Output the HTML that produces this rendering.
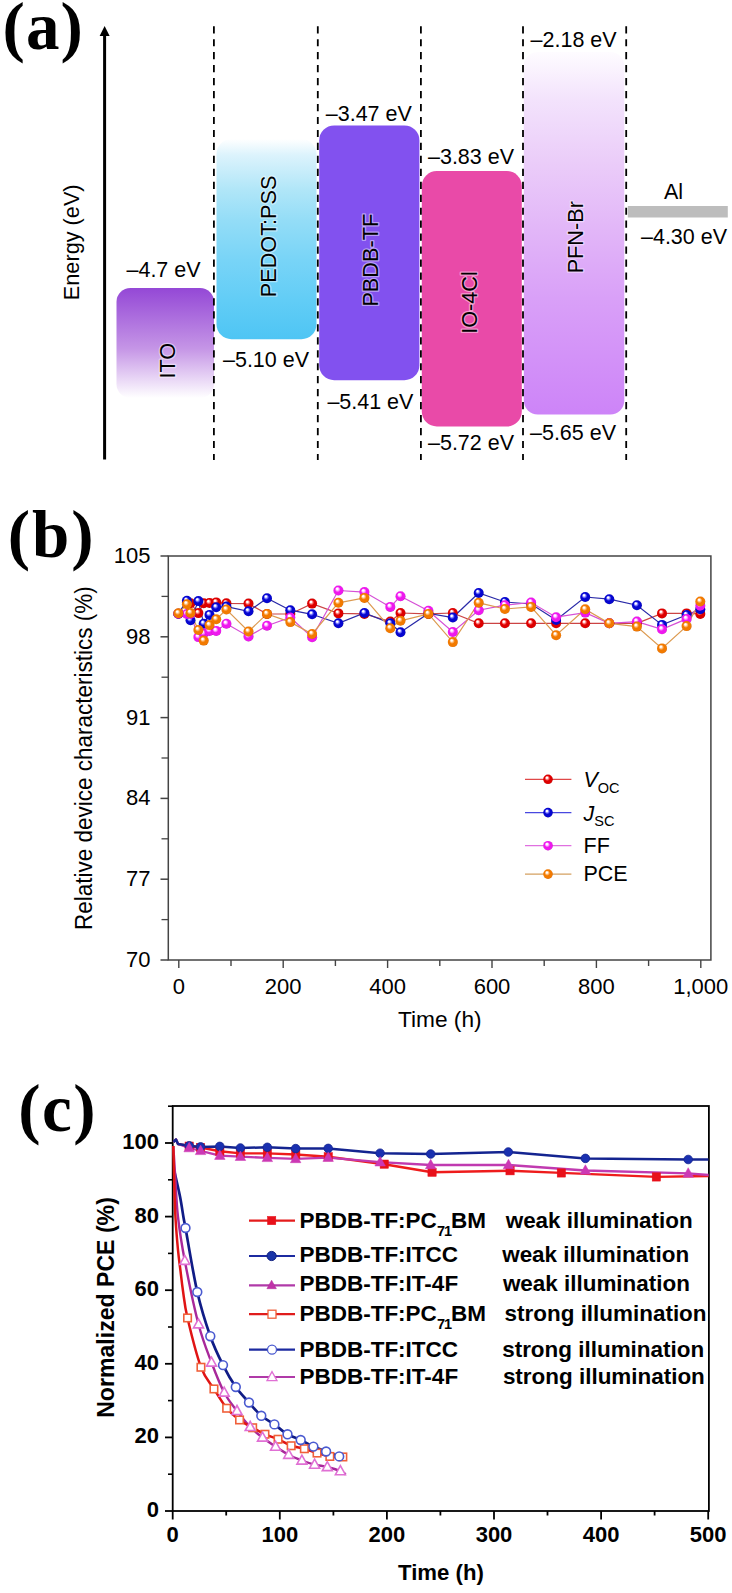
<!DOCTYPE html>
<html><head><meta charset="utf-8"><title>Figure</title>
<style>
html,body{margin:0;padding:0;background:#fff;}
body{width:732px;height:1593px;overflow:hidden;}
svg{display:block;}
text{font-family:"Liberation Sans", sans-serif;}
.serif{font-family:"Liberation Serif", serif;font-weight:bold;}
</style></head><body>
<svg width="732" height="1593" viewBox="0 0 732 1593">
<defs>
<linearGradient id="gITO" x1="0" y1="0" x2="0" y2="1">
 <stop offset="0" stop-color="#9448d6"/><stop offset="0.55" stop-color="#c595e6"/><stop offset="1" stop-color="#ffffff"/>
</linearGradient>
<linearGradient id="gPED" x1="0" y1="0" x2="0" y2="1">
 <stop offset="0" stop-color="#ffffff"/><stop offset="0.08" stop-color="#dcf3fc"/><stop offset="0.255" stop-color="#b0e6f8"/><stop offset="0.405" stop-color="#94ddf7"/><stop offset="0.605" stop-color="#78d4f7"/><stop offset="0.805" stop-color="#62cdf6"/><stop offset="1" stop-color="#4ec5f4"/>
</linearGradient>
<linearGradient id="gPFN" x1="0" y1="0" x2="0" y2="1">
 <stop offset="0" stop-color="#fefcff"/><stop offset="0.13" stop-color="#f3e3fc"/><stop offset="0.3" stop-color="#ebcdf9"/><stop offset="0.49" stop-color="#e2b6f8"/><stop offset="0.68" stop-color="#d9a0f8"/><stop offset="1" stop-color="#cd84f8"/>
</linearGradient>

<radialGradient id="sr" cx="0.5" cy="0.5" r="0.55" fx="0.36" fy="0.3"><stop offset="0" stop-color="#ffffff"/><stop offset="0.14" stop-color="#ffffff"/><stop offset="0.3" stop-color="#ff8080"/><stop offset="0.5" stop-color="#dd0000"/><stop offset="0.85" stop-color="#dd0000"/><stop offset="1" stop-color="#900000"/></radialGradient>
<radialGradient id="sb" cx="0.5" cy="0.5" r="0.55" fx="0.36" fy="0.3"><stop offset="0" stop-color="#ffffff"/><stop offset="0.14" stop-color="#ffffff"/><stop offset="0.3" stop-color="#8080ff"/><stop offset="0.5" stop-color="#0606d0"/><stop offset="0.85" stop-color="#0606d0"/><stop offset="1" stop-color="#000070"/></radialGradient>
<radialGradient id="sm" cx="0.5" cy="0.5" r="0.55" fx="0.36" fy="0.3"><stop offset="0" stop-color="#ffffff"/><stop offset="0.14" stop-color="#ffffff"/><stop offset="0.3" stop-color="#ffa0ff"/><stop offset="0.5" stop-color="#ee18ee"/><stop offset="0.85" stop-color="#ee18ee"/><stop offset="1" stop-color="#a000a0"/></radialGradient>
<radialGradient id="so" cx="0.5" cy="0.5" r="0.55" fx="0.36" fy="0.3"><stop offset="0" stop-color="#ffffff"/><stop offset="0.14" stop-color="#ffffff"/><stop offset="0.3" stop-color="#ffc080"/><stop offset="0.5" stop-color="#f27a00"/><stop offset="0.85" stop-color="#f27a00"/><stop offset="1" stop-color="#b04800"/></radialGradient>
</defs>
<text x="2.4" y="48.5" class="serif" font-size="67" letter-spacing="1.2">(a)</text>
<line x1="104.6" y1="34" x2="104.6" y2="459.5" stroke="#000" stroke-width="3"/>
<polygon points="104.6,26 99.6,36 109.6,36" fill="#000"/>
<rect x="116.5" y="288" width="97.5" height="110" rx="14" ry="14" fill="url(#gITO)"/>
<rect x="216.5" y="139" width="100" height="200.2" rx="15" ry="15" fill="url(#gPED)"/>
<rect x="319.2" y="125.4" width="100.2" height="254.8" rx="15" ry="15" fill="#8251ef"/>
<rect x="421.8" y="171" width="100" height="255.5" rx="15" ry="15" fill="#e94aa8"/>
<rect x="523.8" y="52" width="100.5" height="362.5" rx="14" ry="14" fill="url(#gPFN)"/>
<rect x="627.8" y="206" width="100" height="11.5" fill="#bdbdbd"/>
<line x1="213.9" y1="26.2" x2="213.9" y2="460" stroke="#000" stroke-width="1.8" stroke-dasharray="7.2 5.76"/>
<line x1="317.8" y1="26.2" x2="317.8" y2="460" stroke="#000" stroke-width="1.8" stroke-dasharray="7.2 5.76"/>
<line x1="420.9" y1="26.2" x2="420.9" y2="460" stroke="#000" stroke-width="1.8" stroke-dasharray="7.2 5.76"/>
<line x1="523" y1="26.2" x2="523" y2="460" stroke="#000" stroke-width="1.8" stroke-dasharray="7.2 5.76"/>
<line x1="626.2" y1="26.2" x2="626.2" y2="460" stroke="#000" stroke-width="1.8" stroke-dasharray="7.2 5.76"/>
<text transform="translate(126.5,277.2) scale(0.962,1)" font-size="22.35">–4.7 eV</text>
<text transform="translate(223.0,366.6) scale(0.962,1)" font-size="22.35">–5.10 eV</text>
<text transform="translate(325.8,120.6) scale(0.962,1)" font-size="22.35">–3.47 eV</text>
<text transform="translate(327.4,409.1) scale(0.962,1)" font-size="22.35">–5.41 eV</text>
<text transform="translate(428.0,163.6) scale(0.962,1)" font-size="22.35">–3.83 eV</text>
<text transform="translate(428.0,450.3) scale(0.962,1)" font-size="22.35">–5.72 eV</text>
<text transform="translate(530.6,46.6) scale(0.962,1)" font-size="22.35">–2.18 eV</text>
<text transform="translate(530.0,439.6) scale(0.962,1)" font-size="22.35">–5.65 eV</text>
<text transform="translate(664,199.2) scale(0.962,1)" font-size="22.35">Al</text>
<text transform="translate(641.0,244) scale(0.962,1)" font-size="22.35">–4.30 eV</text>
<text transform="translate(78.6,242.3) rotate(-90) scale(0.962,1)" font-size="22.56" text-anchor="middle" font-weight="normal">Energy (eV)</text>
<text transform="translate(174.7,360.7) rotate(-90) scale(0.962,1)" font-size="22.56" text-anchor="middle" font-weight="normal" stroke="#fff" stroke-opacity="0.45" stroke-width="2.6" paint-order="stroke" stroke-linejoin="round">ITO</text>
<text transform="translate(276,236.4) rotate(-90) scale(0.962,1)" font-size="22.56" text-anchor="middle" font-weight="normal" stroke="#fff" stroke-opacity="0.45" stroke-width="2.6" paint-order="stroke" stroke-linejoin="round">PEDOT:PSS</text>
<text transform="translate(378.3,260.2) rotate(-90) scale(0.962,1)" font-size="22.56" text-anchor="middle" font-weight="normal" stroke="#fff" stroke-opacity="0.45" stroke-width="2.6" paint-order="stroke" stroke-linejoin="round">PBDB-TF</text>
<text transform="translate(477.3,302.5) rotate(-90) scale(0.962,1)" font-size="22.56" text-anchor="middle" font-weight="normal" stroke="#fff" stroke-opacity="0.45" stroke-width="2.6" paint-order="stroke" stroke-linejoin="round">IO-4Cl</text>
<text transform="translate(583.2,237.2) rotate(-90) scale(0.962,1)" font-size="22.56" text-anchor="middle" font-weight="normal" stroke="#fff" stroke-opacity="0.45" stroke-width="2.6" paint-order="stroke" stroke-linejoin="round">PFN-Br</text>
<text x="7.8" y="556.5" class="serif" font-size="67" letter-spacing="2">(b)</text>
<rect x="168.3" y="556" width="542.5999999999999" height="404" fill="none" stroke="#444" stroke-width="1.5"/>
<line x1="160.5" y1="556.0" x2="168.3" y2="556.0" stroke="#444" stroke-width="1.5"/>
<text x="150.50" y="563.00" font-size="22" text-anchor="end" >105</text>
<line x1="160.5" y1="636.8" x2="168.3" y2="636.8" stroke="#444" stroke-width="1.5"/>
<text x="150.50" y="643.80" font-size="22" text-anchor="end" >98</text>
<line x1="160.5" y1="717.6" x2="168.3" y2="717.6" stroke="#444" stroke-width="1.5"/>
<text x="150.50" y="724.60" font-size="22" text-anchor="end" >91</text>
<line x1="160.5" y1="798.4" x2="168.3" y2="798.4" stroke="#444" stroke-width="1.5"/>
<text x="150.50" y="805.40" font-size="22" text-anchor="end" >84</text>
<line x1="160.5" y1="879.2" x2="168.3" y2="879.2" stroke="#444" stroke-width="1.5"/>
<text x="150.50" y="886.20" font-size="22" text-anchor="end" >77</text>
<line x1="160.5" y1="960.0" x2="168.3" y2="960.0" stroke="#444" stroke-width="1.5"/>
<text x="150.50" y="967.00" font-size="22" text-anchor="end" >70</text>
<line x1="161.5" y1="596.4" x2="168.3" y2="596.4" stroke="#444" stroke-width="1.3"/>
<line x1="161.5" y1="677.2" x2="168.3" y2="677.2" stroke="#444" stroke-width="1.3"/>
<line x1="161.5" y1="758.0" x2="168.3" y2="758.0" stroke="#444" stroke-width="1.3"/>
<line x1="161.5" y1="838.8" x2="168.3" y2="838.8" stroke="#444" stroke-width="1.3"/>
<line x1="161.5" y1="919.6" x2="168.3" y2="919.6" stroke="#444" stroke-width="1.3"/>
<line x1="178.8" y1="960" x2="178.8" y2="968" stroke="#444" stroke-width="1.4"/>
<text x="178.80" y="994.30" font-size="22" text-anchor="middle" >0</text>
<line x1="231.0" y1="960" x2="231.0" y2="966" stroke="#444" stroke-width="1.4"/>
<line x1="283.2" y1="960" x2="283.2" y2="968" stroke="#444" stroke-width="1.4"/>
<text x="283.20" y="994.30" font-size="22" text-anchor="middle" >200</text>
<line x1="335.4" y1="960" x2="335.4" y2="966" stroke="#444" stroke-width="1.4"/>
<line x1="387.6" y1="960" x2="387.6" y2="968" stroke="#444" stroke-width="1.4"/>
<text x="387.60" y="994.30" font-size="22" text-anchor="middle" >400</text>
<line x1="439.8" y1="960" x2="439.8" y2="966" stroke="#444" stroke-width="1.4"/>
<line x1="492.0" y1="960" x2="492.0" y2="968" stroke="#444" stroke-width="1.4"/>
<text x="492.00" y="994.30" font-size="22" text-anchor="middle" >600</text>
<line x1="544.2" y1="960" x2="544.2" y2="966" stroke="#444" stroke-width="1.4"/>
<line x1="596.4" y1="960" x2="596.4" y2="968" stroke="#444" stroke-width="1.4"/>
<text x="596.40" y="994.30" font-size="22" text-anchor="middle" >800</text>
<line x1="648.6" y1="960" x2="648.6" y2="966" stroke="#444" stroke-width="1.4"/>
<line x1="700.8" y1="960" x2="700.8" y2="968" stroke="#444" stroke-width="1.4"/>
<text x="700.80" y="994.30" font-size="22" text-anchor="middle" >1,000</text>
<text x="439.80" y="1027.30" font-size="22.7" text-anchor="middle" >Time (h)</text>
<text transform="translate(92.3,758.2) rotate(-90) scale(0.962,1)" font-size="23.39" text-anchor="middle" font-weight="normal">Relative device characteristics (%)</text>
<polyline points="178.4,613.7 186.9,602.5 190.5,603.3 198.4,613.1 203.7,603.3 209.5,602.9 216.2,602.4 226.4,603.3 248.5,603.6 267.0,614.0 290.3,614.0 312.1,603.6 338.4,613.4 364.4,613.9 390.3,621.6 400.5,613.0 428.4,613.9 452.8,613.0 478.7,623.3 504.9,623.3 531.1,623.3 556.1,623.3 585.2,623.3 609.3,623.3 636.9,623.3 662.0,613.4 686.6,613.4 700.3,613.9" fill="none" stroke="#cc4444" stroke-width="1.2"/>
<polyline points="178.4,613.7 186.9,600.7 190.5,620.2 198.4,601.1 203.7,623.7 209.5,614.9 216.2,607.3 226.4,606.6 248.5,611.3 267.0,598.2 290.3,610.2 312.1,614.3 338.4,623.3 364.4,613.0 390.3,623.3 400.5,632.3 428.4,613.5 452.8,617.5 478.7,593.0 504.9,602.0 531.1,604.0 556.1,620.0 585.2,597.0 609.3,599.2 636.9,605.2 662.0,624.9 686.6,615.0 700.3,609.3" fill="none" stroke="#2a2aa8" stroke-width="1.2"/>
<polyline points="178.4,613.7 186.9,614.0 190.5,614.0 198.4,637.1 203.7,633.5 209.5,630.9 216.2,630.9 226.4,623.7 248.5,636.4 267.0,625.7 290.3,617.5 312.1,637.2 338.4,590.5 364.4,592.1 390.3,606.9 400.5,596.2 428.4,610.7 452.8,632.0 478.7,610.2 504.9,605.2 531.1,602.5 556.1,617.2 585.2,612.6 609.3,623.3 636.9,621.6 662.0,629.3 686.6,618.9 700.3,605.7" fill="none" stroke="#d650d6" stroke-width="1.2"/>
<polyline points="178.4,613.3 186.9,604.2 190.5,612.9 198.4,630.0 203.7,640.6 209.5,625.1 216.2,619.3 226.4,609.5 248.5,631.5 267.0,613.9 290.3,622.1 312.1,634.0 338.4,602.8 364.4,597.9 390.3,628.2 400.5,620.8 428.4,613.9 452.8,642.1 478.7,602.8 504.9,609.0 531.1,606.9 556.1,635.2 585.2,609.3 609.3,623.3 636.9,626.6 662.0,648.4 686.6,626.1 700.3,601.5" fill="none" stroke="#dc9a50" stroke-width="1.2"/>
<circle cx="178.4" cy="613.7" r="5" fill="url(#sr)"/>
<circle cx="186.9" cy="602.5" r="5" fill="url(#sr)"/>
<circle cx="190.5" cy="603.3" r="5" fill="url(#sr)"/>
<circle cx="198.4" cy="613.1" r="5" fill="url(#sr)"/>
<circle cx="203.7" cy="603.3" r="5" fill="url(#sr)"/>
<circle cx="209.5" cy="602.9" r="5" fill="url(#sr)"/>
<circle cx="216.2" cy="602.4" r="5" fill="url(#sr)"/>
<circle cx="226.4" cy="603.3" r="5" fill="url(#sr)"/>
<circle cx="248.5" cy="603.6" r="5" fill="url(#sr)"/>
<circle cx="267.0" cy="614.0" r="5" fill="url(#sr)"/>
<circle cx="290.3" cy="614.0" r="5" fill="url(#sr)"/>
<circle cx="312.1" cy="603.6" r="5" fill="url(#sr)"/>
<circle cx="338.4" cy="613.4" r="5" fill="url(#sr)"/>
<circle cx="364.4" cy="613.9" r="5" fill="url(#sr)"/>
<circle cx="390.3" cy="621.6" r="5" fill="url(#sr)"/>
<circle cx="400.5" cy="613.0" r="5" fill="url(#sr)"/>
<circle cx="428.4" cy="613.9" r="5" fill="url(#sr)"/>
<circle cx="452.8" cy="613.0" r="5" fill="url(#sr)"/>
<circle cx="478.7" cy="623.3" r="5" fill="url(#sr)"/>
<circle cx="504.9" cy="623.3" r="5" fill="url(#sr)"/>
<circle cx="531.1" cy="623.3" r="5" fill="url(#sr)"/>
<circle cx="556.1" cy="623.3" r="5" fill="url(#sr)"/>
<circle cx="585.2" cy="623.3" r="5" fill="url(#sr)"/>
<circle cx="609.3" cy="623.3" r="5" fill="url(#sr)"/>
<circle cx="636.9" cy="623.3" r="5" fill="url(#sr)"/>
<circle cx="662.0" cy="613.4" r="5" fill="url(#sr)"/>
<circle cx="686.6" cy="613.4" r="5" fill="url(#sr)"/>
<circle cx="700.3" cy="613.9" r="5" fill="url(#sr)"/>
<circle cx="178.4" cy="613.7" r="5" fill="url(#sb)"/>
<circle cx="186.9" cy="600.7" r="5" fill="url(#sb)"/>
<circle cx="190.5" cy="620.2" r="5" fill="url(#sb)"/>
<circle cx="198.4" cy="601.1" r="5" fill="url(#sb)"/>
<circle cx="203.7" cy="623.7" r="5" fill="url(#sb)"/>
<circle cx="209.5" cy="614.9" r="5" fill="url(#sb)"/>
<circle cx="216.2" cy="607.3" r="5" fill="url(#sb)"/>
<circle cx="226.4" cy="606.6" r="5" fill="url(#sb)"/>
<circle cx="248.5" cy="611.3" r="5" fill="url(#sb)"/>
<circle cx="267.0" cy="598.2" r="5" fill="url(#sb)"/>
<circle cx="290.3" cy="610.2" r="5" fill="url(#sb)"/>
<circle cx="312.1" cy="614.3" r="5" fill="url(#sb)"/>
<circle cx="338.4" cy="623.3" r="5" fill="url(#sb)"/>
<circle cx="364.4" cy="613.0" r="5" fill="url(#sb)"/>
<circle cx="390.3" cy="623.3" r="5" fill="url(#sb)"/>
<circle cx="400.5" cy="632.3" r="5" fill="url(#sb)"/>
<circle cx="428.4" cy="613.5" r="5" fill="url(#sb)"/>
<circle cx="452.8" cy="617.5" r="5" fill="url(#sb)"/>
<circle cx="478.7" cy="593.0" r="5" fill="url(#sb)"/>
<circle cx="504.9" cy="602.0" r="5" fill="url(#sb)"/>
<circle cx="531.1" cy="604.0" r="5" fill="url(#sb)"/>
<circle cx="556.1" cy="620.0" r="5" fill="url(#sb)"/>
<circle cx="585.2" cy="597.0" r="5" fill="url(#sb)"/>
<circle cx="609.3" cy="599.2" r="5" fill="url(#sb)"/>
<circle cx="636.9" cy="605.2" r="5" fill="url(#sb)"/>
<circle cx="662.0" cy="624.9" r="5" fill="url(#sb)"/>
<circle cx="686.6" cy="615.0" r="5" fill="url(#sb)"/>
<circle cx="700.3" cy="609.3" r="5" fill="url(#sb)"/>
<circle cx="178.4" cy="613.7" r="5" fill="url(#sm)"/>
<circle cx="186.9" cy="614.0" r="5" fill="url(#sm)"/>
<circle cx="190.5" cy="614.0" r="5" fill="url(#sm)"/>
<circle cx="198.4" cy="637.1" r="5" fill="url(#sm)"/>
<circle cx="203.7" cy="633.5" r="5" fill="url(#sm)"/>
<circle cx="209.5" cy="630.9" r="5" fill="url(#sm)"/>
<circle cx="216.2" cy="630.9" r="5" fill="url(#sm)"/>
<circle cx="226.4" cy="623.7" r="5" fill="url(#sm)"/>
<circle cx="248.5" cy="636.4" r="5" fill="url(#sm)"/>
<circle cx="267.0" cy="625.7" r="5" fill="url(#sm)"/>
<circle cx="290.3" cy="617.5" r="5" fill="url(#sm)"/>
<circle cx="312.1" cy="637.2" r="5" fill="url(#sm)"/>
<circle cx="338.4" cy="590.5" r="5" fill="url(#sm)"/>
<circle cx="364.4" cy="592.1" r="5" fill="url(#sm)"/>
<circle cx="390.3" cy="606.9" r="5" fill="url(#sm)"/>
<circle cx="400.5" cy="596.2" r="5" fill="url(#sm)"/>
<circle cx="428.4" cy="610.7" r="5" fill="url(#sm)"/>
<circle cx="452.8" cy="632.0" r="5" fill="url(#sm)"/>
<circle cx="478.7" cy="610.2" r="5" fill="url(#sm)"/>
<circle cx="504.9" cy="605.2" r="5" fill="url(#sm)"/>
<circle cx="531.1" cy="602.5" r="5" fill="url(#sm)"/>
<circle cx="556.1" cy="617.2" r="5" fill="url(#sm)"/>
<circle cx="585.2" cy="612.6" r="5" fill="url(#sm)"/>
<circle cx="609.3" cy="623.3" r="5" fill="url(#sm)"/>
<circle cx="636.9" cy="621.6" r="5" fill="url(#sm)"/>
<circle cx="662.0" cy="629.3" r="5" fill="url(#sm)"/>
<circle cx="686.6" cy="618.9" r="5" fill="url(#sm)"/>
<circle cx="700.3" cy="605.7" r="5" fill="url(#sm)"/>
<circle cx="178.4" cy="613.3" r="5" fill="url(#so)"/>
<circle cx="186.9" cy="604.2" r="5" fill="url(#so)"/>
<circle cx="190.5" cy="612.9" r="5" fill="url(#so)"/>
<circle cx="198.4" cy="630.0" r="5" fill="url(#so)"/>
<circle cx="203.7" cy="640.6" r="5" fill="url(#so)"/>
<circle cx="209.5" cy="625.1" r="5" fill="url(#so)"/>
<circle cx="216.2" cy="619.3" r="5" fill="url(#so)"/>
<circle cx="226.4" cy="609.5" r="5" fill="url(#so)"/>
<circle cx="248.5" cy="631.5" r="5" fill="url(#so)"/>
<circle cx="267.0" cy="613.9" r="5" fill="url(#so)"/>
<circle cx="290.3" cy="622.1" r="5" fill="url(#so)"/>
<circle cx="312.1" cy="634.0" r="5" fill="url(#so)"/>
<circle cx="338.4" cy="602.8" r="5" fill="url(#so)"/>
<circle cx="364.4" cy="597.9" r="5" fill="url(#so)"/>
<circle cx="390.3" cy="628.2" r="5" fill="url(#so)"/>
<circle cx="400.5" cy="620.8" r="5" fill="url(#so)"/>
<circle cx="428.4" cy="613.9" r="5" fill="url(#so)"/>
<circle cx="452.8" cy="642.1" r="5" fill="url(#so)"/>
<circle cx="478.7" cy="602.8" r="5" fill="url(#so)"/>
<circle cx="504.9" cy="609.0" r="5" fill="url(#so)"/>
<circle cx="531.1" cy="606.9" r="5" fill="url(#so)"/>
<circle cx="556.1" cy="635.2" r="5" fill="url(#so)"/>
<circle cx="585.2" cy="609.3" r="5" fill="url(#so)"/>
<circle cx="609.3" cy="623.3" r="5" fill="url(#so)"/>
<circle cx="636.9" cy="626.6" r="5" fill="url(#so)"/>
<circle cx="662.0" cy="648.4" r="5" fill="url(#so)"/>
<circle cx="686.6" cy="626.1" r="5" fill="url(#so)"/>
<circle cx="700.3" cy="601.5" r="5" fill="url(#so)"/>
<line x1="525" y1="779.3" x2="571.4" y2="779.3" stroke="#e04848" stroke-width="1.3"/>
<circle cx="548" cy="779.3" r="4.8" fill="url(#sr)"/>
<line x1="525" y1="812.6" x2="571.4" y2="812.6" stroke="#4848e0" stroke-width="1.3"/>
<circle cx="548" cy="812.6" r="4.8" fill="url(#sb)"/>
<line x1="525" y1="845.7" x2="571.4" y2="845.7" stroke="#e070e0" stroke-width="1.3"/>
<circle cx="548" cy="845.7" r="4.8" fill="url(#sm)"/>
<line x1="525" y1="874.1" x2="571.4" y2="874.1" stroke="#d4a060" stroke-width="1.3"/>
<circle cx="548" cy="874.1" r="4.8" fill="url(#so)"/>
<text x="583.5" y="787.3" font-size="21.5"><tspan font-style="italic">V</tspan><tspan font-size="14.5" dy="5.5">OC</tspan></text>
<text x="583.5" y="820.6" font-size="21.5"><tspan font-style="italic">J</tspan><tspan font-size="14.5" dy="5.7">SC</tspan></text>
<text x="583.50" y="853.00" font-size="21.5" text-anchor="start" >FF</text>
<text x="583.50" y="881.20" font-size="21.5" text-anchor="start" >PCE</text>
<text x="18.2" y="1131" class="serif" font-size="67" letter-spacing="1.5">(c)</text>
<rect x="172.7" y="1106" width="536.2" height="405" fill="none" stroke="#000" stroke-width="1.8"/>
<line x1="165" y1="1511.0" x2="172.7" y2="1511.0" stroke="#000" stroke-width="1.8"/>
<text x="159" y="1517.0" font-size="22" font-weight="bold" text-anchor="end">0</text>
<line x1="165" y1="1437.4" x2="172.7" y2="1437.4" stroke="#000" stroke-width="1.8"/>
<text x="159" y="1443.4" font-size="22" font-weight="bold" text-anchor="end">20</text>
<line x1="165" y1="1363.8" x2="172.7" y2="1363.8" stroke="#000" stroke-width="1.8"/>
<text x="159" y="1369.8" font-size="22" font-weight="bold" text-anchor="end">40</text>
<line x1="165" y1="1290.2" x2="172.7" y2="1290.2" stroke="#000" stroke-width="1.8"/>
<text x="159" y="1296.2" font-size="22" font-weight="bold" text-anchor="end">60</text>
<line x1="165" y1="1216.6" x2="172.7" y2="1216.6" stroke="#000" stroke-width="1.8"/>
<text x="159" y="1222.6" font-size="22" font-weight="bold" text-anchor="end">80</text>
<line x1="165" y1="1143.0" x2="172.7" y2="1143.0" stroke="#000" stroke-width="1.8"/>
<text x="159" y="1149.0" font-size="22" font-weight="bold" text-anchor="end">100</text>
<line x1="168" y1="1474.2" x2="172.7" y2="1474.2" stroke="#000" stroke-width="1.6"/>
<line x1="168" y1="1400.6" x2="172.7" y2="1400.6" stroke="#000" stroke-width="1.6"/>
<line x1="168" y1="1327.0" x2="172.7" y2="1327.0" stroke="#000" stroke-width="1.6"/>
<line x1="168" y1="1253.4" x2="172.7" y2="1253.4" stroke="#000" stroke-width="1.6"/>
<line x1="168" y1="1179.8" x2="172.7" y2="1179.8" stroke="#000" stroke-width="1.6"/>
<line x1="168" y1="1106.2" x2="172.7" y2="1106.2" stroke="#000" stroke-width="1.6"/>
<line x1="172.7" y1="1511" x2="172.7" y2="1519.5" stroke="#000" stroke-width="1.8"/>
<text x="172.7" y="1541.8" font-size="22" font-weight="bold" text-anchor="middle">0</text>
<line x1="226.2" y1="1511" x2="226.2" y2="1515.5" stroke="#000" stroke-width="1.8"/>
<line x1="279.8" y1="1511" x2="279.8" y2="1519.5" stroke="#000" stroke-width="1.8"/>
<text x="279.8" y="1541.8" font-size="22" font-weight="bold" text-anchor="middle">100</text>
<line x1="333.4" y1="1511" x2="333.4" y2="1515.5" stroke="#000" stroke-width="1.8"/>
<line x1="386.9" y1="1511" x2="386.9" y2="1519.5" stroke="#000" stroke-width="1.8"/>
<text x="386.9" y="1541.8" font-size="22" font-weight="bold" text-anchor="middle">200</text>
<line x1="440.4" y1="1511" x2="440.4" y2="1515.5" stroke="#000" stroke-width="1.8"/>
<line x1="494.0" y1="1511" x2="494.0" y2="1519.5" stroke="#000" stroke-width="1.8"/>
<text x="494.0" y="1541.8" font-size="22" font-weight="bold" text-anchor="middle">300</text>
<line x1="547.5" y1="1511" x2="547.5" y2="1515.5" stroke="#000" stroke-width="1.8"/>
<line x1="601.1" y1="1511" x2="601.1" y2="1519.5" stroke="#000" stroke-width="1.8"/>
<text x="601.1" y="1541.8" font-size="22" font-weight="bold" text-anchor="middle">400</text>
<line x1="654.6" y1="1511" x2="654.6" y2="1515.5" stroke="#000" stroke-width="1.8"/>
<line x1="708.2" y1="1511" x2="708.2" y2="1519.5" stroke="#000" stroke-width="1.8"/>
<text x="708.2" y="1541.8" font-size="22" font-weight="bold" text-anchor="middle">500</text>
<text x="441" y="1580" font-size="22.2" font-weight="bold" text-anchor="middle">Time (h)</text>
<text transform="translate(114.2,1307.5) rotate(-90) scale(0.962,1)" font-size="24.01" text-anchor="middle" font-weight="bold">Normalized PCE (%)</text>
<polyline points="173.5,1142.0 176.0,1139.5 178.0,1144.0 189.2,1146.2 200.6,1147.5 219.8,1151.2 240.4,1153.4 267.3,1153.4 295.7,1154.5 328.2,1156.8 384.2,1164.2 432.0,1172.3 510.0,1170.8 561.4,1172.9 656.4,1176.9 708.5,1176.0" fill="none" stroke="#ee1c1c" stroke-width="2.4" stroke-linejoin="round"/>
<polyline points="173.5,1142.0 176.0,1139.5 178.0,1144.0 189.2,1148.0 200.6,1150.8 219.8,1155.6 240.4,1156.7 267.3,1157.8 295.7,1158.9 328.2,1157.6 380.1,1162.2 430.7,1165.0 508.5,1165.0 585.4,1170.5 688.2,1173.4 708.5,1175.0" fill="none" stroke="#c03ab0" stroke-width="2.3" stroke-linejoin="round"/>
<polyline points="173.5,1142.0 176.0,1139.5 178.0,1144.0 189.2,1145.8 200.6,1146.9 219.8,1146.4 240.4,1148.0 267.3,1147.3 295.7,1148.6 328.2,1148.4 380.1,1153.2 430.7,1154.0 508.3,1152.0 585.4,1158.4 688.2,1159.5 708.5,1159.5" fill="none" stroke="#142490" stroke-width="2.5" stroke-linejoin="round"/>
<rect x="185.0" y="1142.0" width="8.3" height="8.3" fill="#e8101a" stroke="#e8101a" stroke-width="0.5"/>
<rect x="196.4" y="1143.3" width="8.3" height="8.3" fill="#e8101a" stroke="#e8101a" stroke-width="0.5"/>
<rect x="215.7" y="1147.0" width="8.3" height="8.3" fill="#e8101a" stroke="#e8101a" stroke-width="0.5"/>
<rect x="236.2" y="1149.2" width="8.3" height="8.3" fill="#e8101a" stroke="#e8101a" stroke-width="0.5"/>
<rect x="263.2" y="1149.2" width="8.3" height="8.3" fill="#e8101a" stroke="#e8101a" stroke-width="0.5"/>
<rect x="291.6" y="1150.3" width="8.3" height="8.3" fill="#e8101a" stroke="#e8101a" stroke-width="0.5"/>
<rect x="324.1" y="1152.6" width="8.3" height="8.3" fill="#e8101a" stroke="#e8101a" stroke-width="0.5"/>
<rect x="380.1" y="1160.0" width="8.3" height="8.3" fill="#e8101a" stroke="#e8101a" stroke-width="0.5"/>
<rect x="427.9" y="1168.1" width="8.3" height="8.3" fill="#e8101a" stroke="#e8101a" stroke-width="0.5"/>
<rect x="505.9" y="1166.6" width="8.3" height="8.3" fill="#e8101a" stroke="#e8101a" stroke-width="0.5"/>
<rect x="557.2" y="1168.8" width="8.3" height="8.3" fill="#e8101a" stroke="#e8101a" stroke-width="0.5"/>
<rect x="652.2" y="1172.8" width="8.3" height="8.3" fill="#e8101a" stroke="#e8101a" stroke-width="0.5"/>
<circle cx="189.2" cy="1145.8" r="4.3" fill="#1a30b0" stroke="#142490" stroke-width="0.8"/>
<circle cx="200.6" cy="1146.9" r="4.3" fill="#1a30b0" stroke="#142490" stroke-width="0.8"/>
<circle cx="219.8" cy="1146.4" r="4.3" fill="#1a30b0" stroke="#142490" stroke-width="0.8"/>
<circle cx="240.4" cy="1148.0" r="4.3" fill="#1a30b0" stroke="#142490" stroke-width="0.8"/>
<circle cx="267.3" cy="1147.3" r="4.3" fill="#1a30b0" stroke="#142490" stroke-width="0.8"/>
<circle cx="295.7" cy="1148.6" r="4.3" fill="#1a30b0" stroke="#142490" stroke-width="0.8"/>
<circle cx="328.2" cy="1148.4" r="4.3" fill="#1a30b0" stroke="#142490" stroke-width="0.8"/>
<circle cx="380.1" cy="1153.2" r="4.3" fill="#1a30b0" stroke="#142490" stroke-width="0.8"/>
<circle cx="430.7" cy="1154.0" r="4.3" fill="#1a30b0" stroke="#142490" stroke-width="0.8"/>
<circle cx="508.3" cy="1152.0" r="4.3" fill="#1a30b0" stroke="#142490" stroke-width="0.8"/>
<circle cx="585.4" cy="1158.4" r="4.3" fill="#1a30b0" stroke="#142490" stroke-width="0.8"/>
<circle cx="688.2" cy="1159.5" r="4.3" fill="#1a30b0" stroke="#142490" stroke-width="0.8"/>
<polygon points="189.2,1142.3 183.9,1151.8 194.4,1151.8" fill="#cc38b4" stroke="#cc38b4" stroke-width="0.5"/>
<polygon points="200.6,1145.1 195.3,1154.6 205.8,1154.6" fill="#cc38b4" stroke="#cc38b4" stroke-width="0.5"/>
<polygon points="219.8,1149.9 214.6,1159.4 225.1,1159.4" fill="#cc38b4" stroke="#cc38b4" stroke-width="0.5"/>
<polygon points="240.4,1151.0 235.2,1160.5 245.7,1160.5" fill="#cc38b4" stroke="#cc38b4" stroke-width="0.5"/>
<polygon points="267.3,1152.1 262.1,1161.6 272.6,1161.6" fill="#cc38b4" stroke="#cc38b4" stroke-width="0.5"/>
<polygon points="295.7,1153.2 290.4,1162.7 300.9,1162.7" fill="#cc38b4" stroke="#cc38b4" stroke-width="0.5"/>
<polygon points="328.2,1151.9 322.9,1161.4 333.4,1161.4" fill="#cc38b4" stroke="#cc38b4" stroke-width="0.5"/>
<polygon points="380.1,1156.5 374.9,1166.0 385.4,1166.0" fill="#cc38b4" stroke="#cc38b4" stroke-width="0.5"/>
<polygon points="430.7,1159.3 425.4,1168.8 435.9,1168.8" fill="#cc38b4" stroke="#cc38b4" stroke-width="0.5"/>
<polygon points="508.5,1159.3 503.2,1168.8 513.8,1168.8" fill="#cc38b4" stroke="#cc38b4" stroke-width="0.5"/>
<polygon points="585.4,1164.8 580.1,1174.3 590.6,1174.3" fill="#cc38b4" stroke="#cc38b4" stroke-width="0.5"/>
<polygon points="688.2,1167.7 683.0,1177.2 693.5,1177.2" fill="#cc38b4" stroke="#cc38b4" stroke-width="0.5"/>
<path d="M174.30,1171.00 C175.25,1175.25 178.45,1188.67 180.00,1196.50 C181.55,1204.33 182.68,1212.75 183.60,1218.00 C184.52,1223.25 183.22,1215.67 185.50,1228.00 C187.78,1240.33 193.17,1273.97 197.30,1292.00 C201.43,1310.03 206.02,1324.02 210.30,1336.20 C214.58,1348.38 218.75,1356.63 223.00,1365.10 C227.25,1373.57 231.47,1380.77 235.80,1387.00 C240.13,1393.23 244.75,1397.70 249.00,1402.50 C253.25,1407.30 257.07,1412.15 261.30,1415.80 C265.53,1419.45 270.03,1421.32 274.40,1424.40 C278.77,1427.48 283.12,1431.70 287.50,1434.30 C291.88,1436.90 296.38,1437.95 300.70,1440.00 C305.02,1442.05 309.17,1444.68 313.40,1446.60 C317.63,1448.52 321.80,1449.87 326.10,1451.50 C330.40,1453.13 335.93,1455.45 339.20,1456.40 C342.47,1457.35 344.62,1457.07 345.70,1457.20" fill="none" stroke="#101c86" stroke-width="2.7" stroke-linejoin="round"/>
<path d="M173.30,1146.00 C173.62,1151.00 174.42,1164.17 175.20,1176.00 C175.98,1187.83 176.40,1202.87 178.00,1217.00 C179.60,1231.13 181.38,1242.92 184.80,1260.80 C188.22,1278.68 194.05,1307.35 198.50,1324.30 C202.95,1341.25 207.22,1351.13 211.50,1362.50 C215.78,1373.87 219.95,1384.43 224.20,1392.50 C228.45,1400.57 232.67,1405.17 237.00,1410.90 C241.33,1416.63 245.95,1422.47 250.20,1426.90 C254.45,1431.33 258.27,1434.22 262.50,1437.50 C266.73,1440.78 271.23,1443.72 275.60,1446.60 C279.97,1449.48 284.32,1452.48 288.70,1454.80 C293.08,1457.12 297.58,1458.87 301.90,1460.50 C306.22,1462.13 310.37,1463.52 314.60,1464.60 C318.83,1465.68 323.00,1465.92 327.30,1467.00 C331.60,1468.08 337.33,1469.87 340.40,1471.10 C343.47,1472.33 344.82,1473.85 345.70,1474.40" fill="none" stroke="#a8289a" stroke-width="2.4" stroke-linejoin="round"/>
<path d="M173.30,1146.00 C173.47,1152.50 173.93,1173.00 174.30,1185.00 C174.67,1197.00 174.88,1207.17 175.50,1218.00 C176.12,1228.83 177.17,1241.17 178.00,1250.00 C178.83,1258.83 179.67,1264.17 180.50,1271.00 C181.33,1277.83 181.83,1283.17 183.00,1291.00 C184.17,1298.83 184.50,1305.30 187.50,1318.00 C190.50,1330.70 196.58,1355.37 201.00,1367.20 C205.42,1379.03 209.72,1382.17 214.00,1389.00 C218.28,1395.83 222.45,1403.03 226.70,1408.20 C230.95,1413.37 235.17,1416.75 239.50,1420.00 C243.83,1423.25 248.45,1425.32 252.70,1427.70 C256.95,1430.08 260.77,1432.38 265.00,1434.30 C269.23,1436.22 273.73,1437.30 278.10,1439.20 C282.47,1441.10 286.82,1444.12 291.20,1445.70 C295.58,1447.28 300.08,1447.47 304.40,1448.70 C308.72,1449.93 312.87,1451.82 317.10,1453.10 C321.33,1454.38 325.50,1455.77 329.80,1456.40 C334.10,1457.03 340.25,1456.72 342.90,1456.90 C345.55,1457.08 345.23,1457.40 345.70,1457.50" fill="none" stroke="#e01414" stroke-width="2.5" stroke-linejoin="round"/>
<rect x="183.8" y="1314.2" width="7.5" height="7.5" fill="#fff" stroke="#f0603a" stroke-width="1.6"/>
<rect x="197.2" y="1363.5" width="7.5" height="7.5" fill="#fff" stroke="#f0603a" stroke-width="1.6"/>
<rect x="210.2" y="1385.2" width="7.5" height="7.5" fill="#fff" stroke="#f0603a" stroke-width="1.6"/>
<rect x="222.9" y="1404.5" width="7.5" height="7.5" fill="#fff" stroke="#f0603a" stroke-width="1.6"/>
<rect x="235.8" y="1416.2" width="7.5" height="7.5" fill="#fff" stroke="#f0603a" stroke-width="1.6"/>
<rect x="248.9" y="1424.0" width="7.5" height="7.5" fill="#fff" stroke="#f0603a" stroke-width="1.6"/>
<rect x="261.2" y="1430.5" width="7.5" height="7.5" fill="#fff" stroke="#f0603a" stroke-width="1.6"/>
<rect x="274.3" y="1435.5" width="7.5" height="7.5" fill="#fff" stroke="#f0603a" stroke-width="1.6"/>
<rect x="287.4" y="1442.0" width="7.5" height="7.5" fill="#fff" stroke="#f0603a" stroke-width="1.6"/>
<rect x="300.6" y="1445.0" width="7.5" height="7.5" fill="#fff" stroke="#f0603a" stroke-width="1.6"/>
<rect x="313.3" y="1449.3" width="7.5" height="7.5" fill="#fff" stroke="#f0603a" stroke-width="1.6"/>
<rect x="326.1" y="1452.7" width="7.5" height="7.5" fill="#fff" stroke="#f0603a" stroke-width="1.6"/>
<rect x="339.1" y="1453.2" width="7.5" height="7.5" fill="#fff" stroke="#f0603a" stroke-width="1.6"/>
<polygon points="184.8,1255.4 179.8,1264.4 189.8,1264.4" fill="#fff" stroke="#e070d4" stroke-width="1.6"/>
<polygon points="198.5,1318.9 193.5,1327.9 203.5,1327.9" fill="#fff" stroke="#e070d4" stroke-width="1.6"/>
<polygon points="211.5,1357.1 206.5,1366.1 216.5,1366.1" fill="#fff" stroke="#e070d4" stroke-width="1.6"/>
<polygon points="224.2,1387.1 219.2,1396.1 229.2,1396.1" fill="#fff" stroke="#e070d4" stroke-width="1.6"/>
<polygon points="237.0,1405.5 232.0,1414.5 242.0,1414.5" fill="#fff" stroke="#e070d4" stroke-width="1.6"/>
<polygon points="250.2,1421.5 245.2,1430.5 255.2,1430.5" fill="#fff" stroke="#e070d4" stroke-width="1.6"/>
<polygon points="262.5,1432.1 257.5,1441.1 267.5,1441.1" fill="#fff" stroke="#e070d4" stroke-width="1.6"/>
<polygon points="275.6,1441.2 270.6,1450.2 280.6,1450.2" fill="#fff" stroke="#e070d4" stroke-width="1.6"/>
<polygon points="288.7,1449.4 283.7,1458.4 293.7,1458.4" fill="#fff" stroke="#e070d4" stroke-width="1.6"/>
<polygon points="301.9,1455.1 296.9,1464.1 306.9,1464.1" fill="#fff" stroke="#e070d4" stroke-width="1.6"/>
<polygon points="314.6,1459.2 309.6,1468.2 319.6,1468.2" fill="#fff" stroke="#e070d4" stroke-width="1.6"/>
<polygon points="327.3,1461.6 322.3,1470.6 332.3,1470.6" fill="#fff" stroke="#e070d4" stroke-width="1.6"/>
<polygon points="340.4,1465.7 335.4,1474.7 345.4,1474.7" fill="#fff" stroke="#e070d4" stroke-width="1.6"/>
<circle cx="185.5" cy="1228.0" r="4.4" fill="#fff" stroke="#4a5ad0" stroke-width="1.6"/>
<circle cx="197.3" cy="1292.0" r="4.4" fill="#fff" stroke="#4a5ad0" stroke-width="1.6"/>
<circle cx="210.3" cy="1336.2" r="4.4" fill="#fff" stroke="#4a5ad0" stroke-width="1.6"/>
<circle cx="223.0" cy="1365.1" r="4.4" fill="#fff" stroke="#4a5ad0" stroke-width="1.6"/>
<circle cx="235.8" cy="1387.0" r="4.4" fill="#fff" stroke="#4a5ad0" stroke-width="1.6"/>
<circle cx="249.0" cy="1402.5" r="4.4" fill="#fff" stroke="#4a5ad0" stroke-width="1.6"/>
<circle cx="261.3" cy="1415.8" r="4.4" fill="#fff" stroke="#4a5ad0" stroke-width="1.6"/>
<circle cx="274.4" cy="1424.4" r="4.4" fill="#fff" stroke="#4a5ad0" stroke-width="1.6"/>
<circle cx="287.5" cy="1434.3" r="4.4" fill="#fff" stroke="#4a5ad0" stroke-width="1.6"/>
<circle cx="300.7" cy="1440.0" r="4.4" fill="#fff" stroke="#4a5ad0" stroke-width="1.6"/>
<circle cx="313.4" cy="1446.6" r="4.4" fill="#fff" stroke="#4a5ad0" stroke-width="1.6"/>
<circle cx="326.1" cy="1451.5" r="4.4" fill="#fff" stroke="#4a5ad0" stroke-width="1.6"/>
<circle cx="339.2" cy="1456.4" r="4.4" fill="#fff" stroke="#4a5ad0" stroke-width="1.6"/>
<line x1="249" y1="1220.6" x2="295" y2="1220.6" stroke="#e41c1c" stroke-width="2.2"/>
<line x1="249" y1="1256" x2="295" y2="1256" stroke="#1c2aa0" stroke-width="2.2"/>
<line x1="249" y1="1285.3" x2="295" y2="1285.3" stroke="#b03aa8" stroke-width="2.2"/>
<line x1="249" y1="1314.2" x2="295" y2="1314.2" stroke="#e01c1c" stroke-width="2.2"/>
<line x1="249" y1="1349.7" x2="295" y2="1349.7" stroke="#1c2aa0" stroke-width="2.2"/>
<line x1="249" y1="1377" x2="295" y2="1377" stroke="#b03aa8" stroke-width="2.2"/>
<rect x="267.5" y="1216.4" width="8.3" height="8.3" fill="#e8101a" stroke="#e8101a" stroke-width="0.5"/>
<circle cx="271.6" cy="1256.0" r="4.6" fill="#1a35a8" stroke="#10207f" stroke-width="1"/>
<polygon points="271.6,1280.2 266.9,1288.7 276.4,1288.7" fill="#c032a8" stroke="#b02a98" stroke-width="0.5"/>
<rect x="268.0" y="1310.2" width="8" height="8" fill="#fff" stroke="#f0603a" stroke-width="1.3"/>
<circle cx="272.0" cy="1349.7" r="4.5" fill="#fff" stroke="#4a5ad0" stroke-width="1.3"/>
<polygon points="272.0,1371.6 267.0,1380.6 277.0,1380.6" fill="#fff" stroke="#e070d4" stroke-width="1.3"/>
<text x="299.4" y="1228.4" font-size="22.5" font-weight="bold" text-anchor="start">PBDB-TF:PC<tspan font-size="14.5" dy="7.3" letter-spacing="-1">71</tspan><tspan dy="-7.3">BM</tspan></text>
<text x="505.7" y="1228.4" font-size="22.45" font-weight="bold" text-anchor="start">weak illumination</text>
<text x="299.4" y="1262.2" font-size="22.5" font-weight="bold" text-anchor="start">PBDB-TF:ITCC</text>
<text x="502.2" y="1262.2" font-size="22.45" font-weight="bold" text-anchor="start">weak illumination</text>
<text x="299.4" y="1290.6" font-size="22.5" font-weight="bold" text-anchor="start">PBDB-TF:IT-4F</text>
<text x="502.9" y="1290.6" font-size="22.45" font-weight="bold" text-anchor="start">weak illumination</text>
<text x="299.4" y="1321.3" font-size="22.5" font-weight="bold" text-anchor="start">PBDB-TF:PC<tspan font-size="14.5" dy="7.3" letter-spacing="-1">71</tspan><tspan dy="-7.3">BM</tspan></text>
<text x="504.6" y="1321.3" font-size="22.45" font-weight="bold" text-anchor="start">strong illumination</text>
<text x="299.4" y="1356.8" font-size="22.5" font-weight="bold" text-anchor="start">PBDB-TF:ITCC</text>
<text x="502.2" y="1356.8" font-size="22.45" font-weight="bold" text-anchor="start">strong illumination</text>
<text x="299.4" y="1384.1" font-size="22.5" font-weight="bold" text-anchor="start">PBDB-TF:IT-4F</text>
<text x="502.9" y="1384.1" font-size="22.45" font-weight="bold" text-anchor="start">strong illumination</text>
</svg></body></html>
